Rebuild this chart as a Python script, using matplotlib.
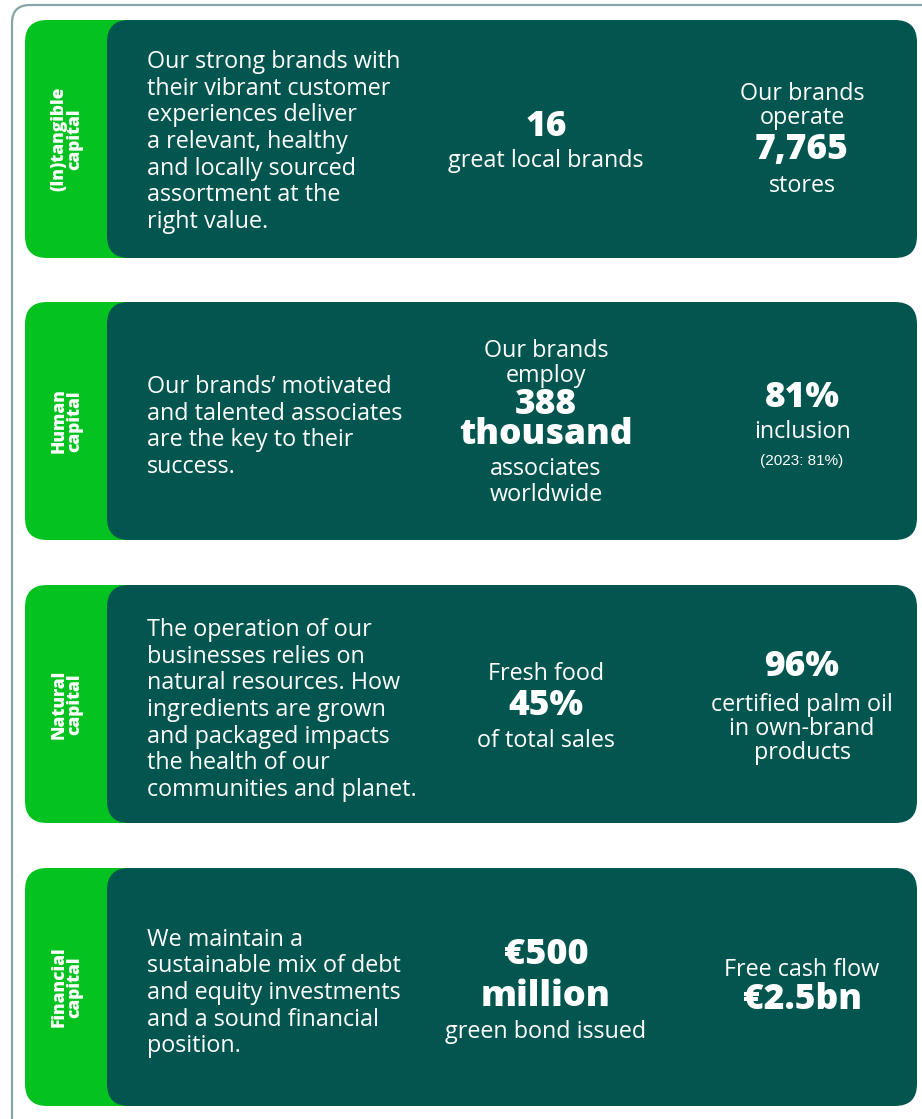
import matplotlib.pyplot as plt
from matplotlib.patches import FancyBboxPatch

W, H = 922, 1119

GREEN = "#04c21f"
TEAL = "#03564f"
BORDER = "#86a5a6"

capitals = ["(In)tangible\ncapital", "Human\ncapital", "Natural\ncapital", "Financial\ncapital"]
descriptions = [
    "Our strong brands with\ntheir vibrant customer\nexperiences deliver\na relevant, healthy\nand locally sourced\nassortment at the\nright value.",
    "Our brands\u2019 motivated\nand talented associates\nare the key to their\nsuccess.",
    "The operation of our\nbusinesses relies on\nnatural resources. How\ningredients are grown\nand packaged impacts\nthe health of our\ncommunities and planet.",
    "We maintain a\nsustainable mix of debt\nand equity investments\nand a sound financial\nposition.",
]
# (text, style) lines for middle and right columns
middle = [
    [("16", "big"), ("great local brands", "txt")],
    [("Our brands", "txt"), ("employ", "txt"), ("388", "big"), ("thousand", "big"), ("associates", "txt"), ("worldwide", "txt")],
    [("Fresh food", "txt"), ("45%", "big"), ("of total sales", "txt")],
    [("\u20ac500", "huge"), ("million", "huge"), ("green bond issued", "txt")],
]
right = [
    [("Our brands", "txt"), ("operate", "txt"), ("7,765", "big"), ("stores", "txt")],
    [("81%", "big"), ("inclusion", "txt"), ("(2023: 81%)", "small")],
    [("96%", "big"), ("certified palm oil", "txt"), ("in own-brand", "txt"), ("products", "txt")],
    [("Free cash flow", "txt"), ("\u20ac2.5bn", "big")],
]
# text centre y of each line (pixels)
middle_y = [[127, 161], [351, 376, 405, 435, 469, 495], [674, 706, 741], [955, 997, 1032]]
right_y = [[94, 118, 150, 186], [398, 432, 461], [667, 705, 729, 753], [970, 1000]]
desc_y = [142, 427, 710, 993]
panel_top = [20, 302, 585, 868]
panel_h = 238

styles = {
    "txt": dict(fontsize=16.8, family="Open Sans", fontweight="normal"),
    "big": dict(fontsize=25.5, family="Open Sans", fontweight="heavy"),
    "huge": dict(fontsize=26, family="Open Sans", fontweight="heavy"),
    "small": dict(fontsize=11, family="Liberation Sans", fontweight="normal"),
}

fig = plt.figure(figsize=(W / 100, H / 100), dpi=100)
ax = fig.add_axes([0, 0, 1, 1])
ax.set_xlim(0, W)
ax.set_ylim(H, 0)
ax.axis("off")

# outer frame
ax.add_patch(FancyBboxPatch((12, 5), 930, 1140, boxstyle="round,pad=0,rounding_size=18",
                            fc="white", ec=BORDER, lw=1.6))

for i in range(4):
    top = panel_top[i]
    ax.add_patch(FancyBboxPatch((25, top), 140, panel_h, boxstyle="round,pad=0,rounding_size=22",
                                fc=GREEN, ec="none"))
    ax.add_patch(FancyBboxPatch((107, top), 810, panel_h, boxstyle="round,pad=0,rounding_size=22",
                                fc=TEAL, ec="none"))
    ax.text(67, top + panel_h / 2, capitals[i], rotation=90, ha="center", va="center",
            color="white", fontsize=12.5, family="Open Sans", fontweight="heavy", linespacing=0.95)
    ax.text(147, desc_y[i], descriptions[i], ha="left", va="center", color="white",
            linespacing=1.15, **styles["txt"])
    for (txt, st), y in zip(middle[i], middle_y[i]):
        ax.text(546, y, txt, ha="center", va="center", color="white", **styles[st])
    for (txt, st), y in zip(right[i], right_y[i]):
        ax.text(802, y, txt, ha="center", va="center", color="white", **styles[st])

fig.savefig("out.png", dpi=100)
